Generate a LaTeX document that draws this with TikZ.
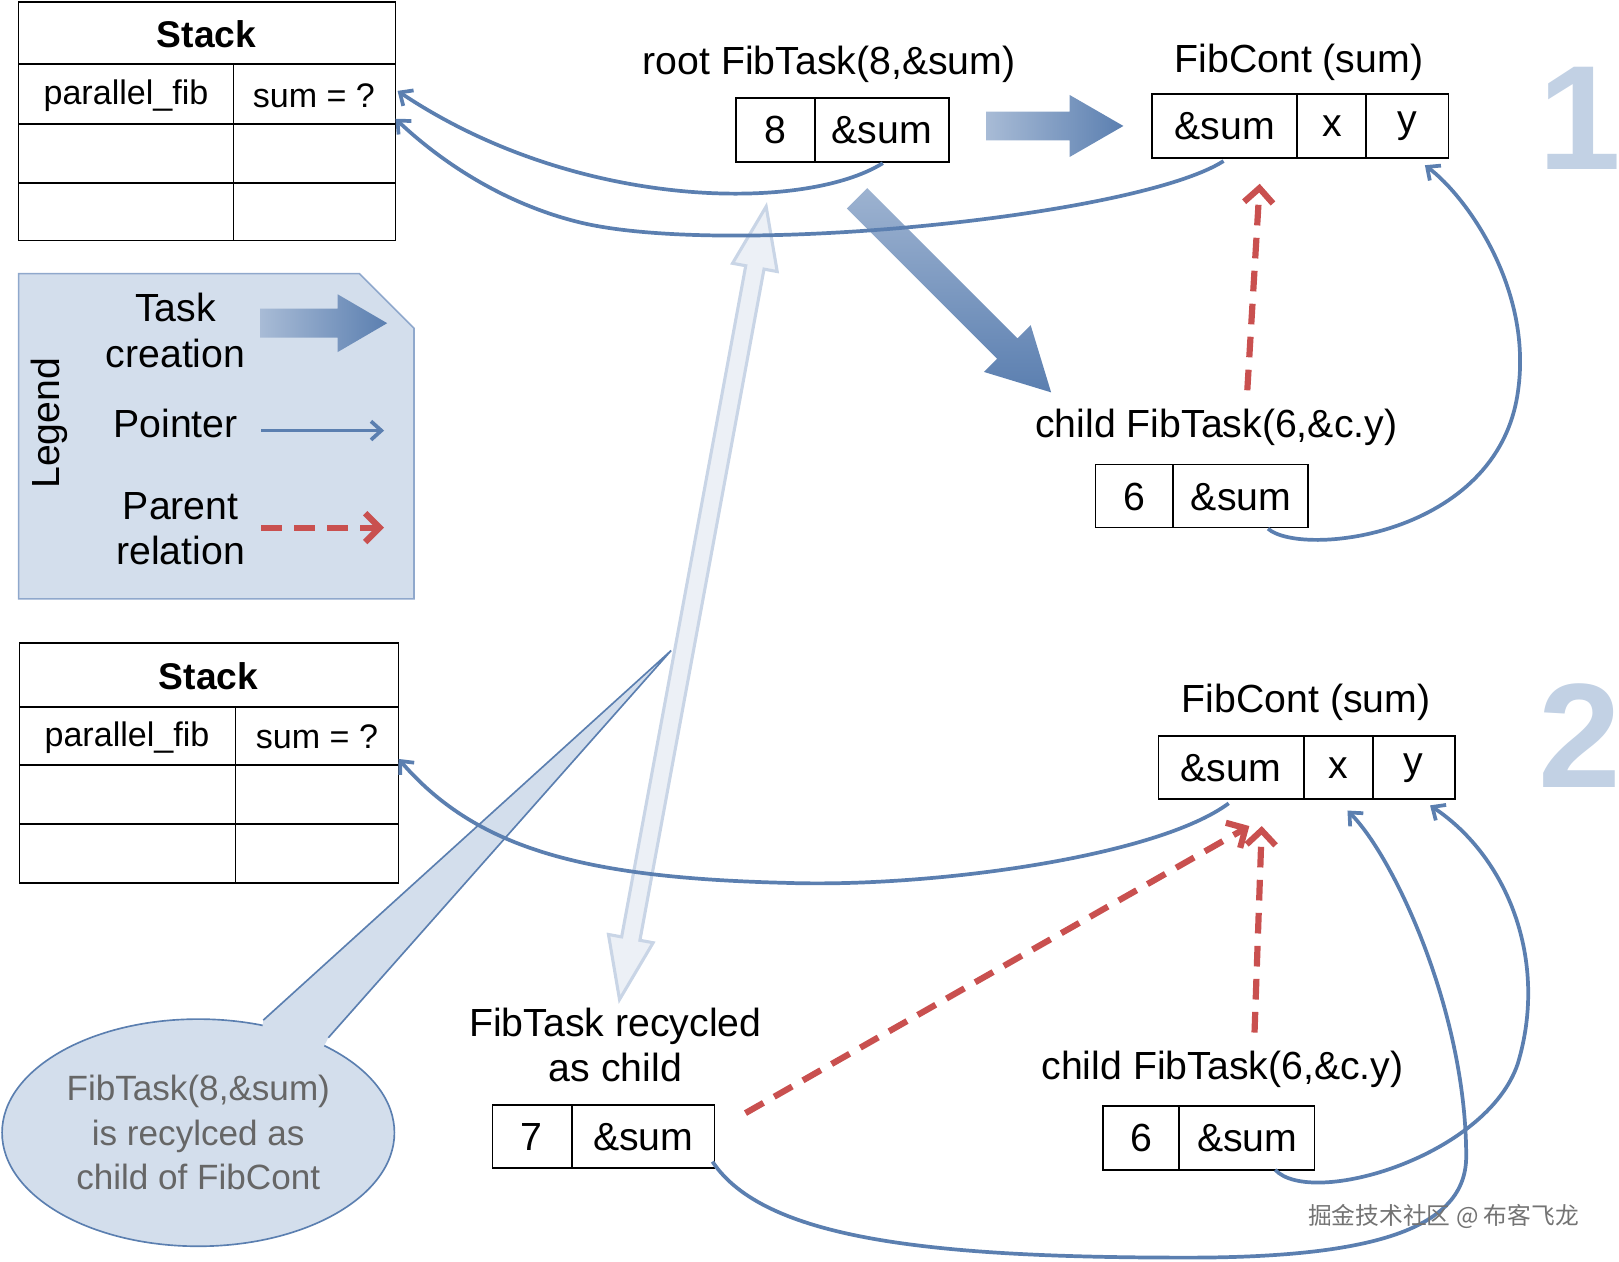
\documentclass[tikz,border=0pt]{standalone}
\usepackage{fontspec}
\setmainfont{Liberation Sans}
\newfontfamily\cjk{Noto Sans CJK SC}
\usetikzlibrary{calc,arrows.meta,shapes.geometric}
\definecolor{lb}{HTML}{D3DEEC}
\definecolor{lbd}{HTML}{8FA8CC}
\definecolor{bl}{HTML}{5B7FB0}
\definecolor{rd}{HTML}{C9504F}
\definecolor{ghost}{HTML}{C9D5E6}
\newcommand\fatarr[7]{% A B halfshaft halfhead headlen fillopts drawopts
 \coordinate (fa-H) at ($(#2)!#5!(#1)$);
 \path[#6,#7] ($(#1)!#3!90:(#2)$) -- ($(fa-H)!#3!90:(#2)$) -- ($(fa-H)!#4!90:(#2)$) -- (#2)
   -- ($(fa-H)!#4!-90:(#2)$) -- ($(fa-H)!#3!-90:(#2)$) -- ($(#1)!#3!-90:(#2)$) -- cycle;}
\begin{document}
\begin{tikzpicture}[x=0.5pt,y=-0.5pt,
  lbl/.style={font=\fontsize{19}{22}\selectfont},
  stk/.style={font=\fontsize{16.5}{19}\selectfont},
  ptr/.style={draw=bl,line width=1.8pt,-{Straight Barb[length=5pt,width=9pt]}},
  par/.style={draw=rd,line width=3pt,dash pattern=on 10pt off 6pt,-{Straight Barb[length=7pt,width=14pt]}},
  num/.style={font=\fontsize{72}{72}\selectfont\bfseries,text=lb!75!lbd}]
\useasboundingbox (0,0) rectangle (1568,1222);
% Stack 1
\draw[thick] (18,2) rectangle (383,233);
\draw[thick] (18,62)--(383,62) (18,120)--(383,120) (18,177)--(383,177) (226,62)--(226,233);
\node[font=\fontsize{18}{20}\selectfont\bfseries] (st1) at (200,33) {Stack};
\node[stk] (pf1) at (122,93) {parallel\_fib};
\node[stk] (sum1) at (304,93) {sum = ?};
\coordinate (s1a) at (385,88); \coordinate (s1b) at (383,115);
% Legend
\draw[fill=lb,draw=lbd,thick] (18,265)--(348,265)--(401,318)--(401,580)--(18,580)--cycle;
\node[lbl,rotate=90] (leg) at (48,410) {Legend};
\node[lbl,align=center] (tc) at (170,320) {Task\\creation};
\node[lbl] (pt) at (170,410) {Pointer};
\node[lbl,align=center] (pr) at (175,512) {Parent\\relation};
\coordinate (la1) at (252,313); \coordinate (la2) at (375,313);
\fatarr{la1}{la2}{7pt}{14pt}{24pt}{left color=ghost!70!bl,right color=bl}{shade}
\coordinate (lp1) at (253,417); \coordinate (lp2) at (372,417);
\draw[ptr] (lp1)--(lp2);
\coordinate (lr1) at (253,511); \coordinate (lr2) at (372,511);
\draw[par] (lr1)--(lr2);
% Stack 2
\draw[thick] (19,623) rectangle (386,855);
\draw[thick] (19,685)--(386,685) (19,741)--(386,741) (19,798)--(386,798) (228,685)--(228,855);
\node[font=\fontsize{18}{20}\selectfont\bfseries] (st2) at (202,655) {Stack};
\node[stk] (pf2) at (123,714) {parallel\_fib};
\node[stk] (sum2) at (307,714) {sum = ?};
\coordinate (s2a) at (386,735);
% ghost double arrow
\coordinate (gA) at (742,200); \coordinate (gB) at (600,968);
\coordinate (gH1) at ($(gA)!30pt!(gB)$); \coordinate (gH2) at ($(gB)!30pt!(gA)$);
\draw[fill=ghost!35,draw=ghost,line width=1.5pt] (gA) -- ($(gH1)!11pt!90:(gB)$) -- ($(gH1)!4.5pt!90:(gB)$) -- ($(gH2)!4.5pt!-90:(gA)$) -- ($(gH2)!11pt!-90:(gA)$) -- (gB) -- ($(gH2)!11pt!90:(gA)$) -- ($(gH2)!4.5pt!90:(gA)$) -- ($(gH1)!4.5pt!-90:(gB)$) -- ($(gH1)!11pt!-90:(gB)$) -- cycle;
% callout
\coordinate (ct) at (650,630);
\draw[fill=lb,draw=bl,thick] (192,1097) ellipse[x radius=190,y radius=110];
\fill[lb] (255,988) -- (ct) -- (318,1005) -- (300,1040) -- (250,1030) -- cycle;
\draw[bl,thick] (255,988) -- (ct) -- (318,1005);
\node[font=\fontsize{17}{21.5}\selectfont,align=center,text=black!60] (co) at (192,1097) {FibTask(8,\&sum)\\is recylced as\\child of FibCont};
% root
\node[lbl] (rootl) at (803,62) {root FibTask(8,\&sum)};
\draw[thick] (713,95) rectangle (919,157) (789,95)--(789,157);
\node[lbl] (r8) at (751,126) {8};
\node[lbl] (rs) at (854,126) {\&sum};
% FibCont1
\node[lbl] (fc1l) at (1258,60) {FibCont (sum)};
\draw[thick] (1116,91) rectangle (1403,153) (1256,91)--(1256,153) (1323,91)--(1323,153);
\node[lbl] (fc1s) at (1186,122) {\&sum};
\node[lbl] (fc1x) at (1290,122) {x};
\node[lbl] (fc1y) at (1363,122) {y};
% big arrows
\coordinate (b1a) at (955,122); \coordinate (b1b) at (1088,122);
\fatarr{b1a}{b1b}{7pt}{15pt}{26pt}{left color=ghost!70!bl,right color=bl}{shade}
\coordinate (b2a) at (830,192); \coordinate (b2b) at (1018,380);
\fatarr{b2a}{b2b}{7pt}{16pt}{30pt}{shading angle=45,top color=ghost!60!bl,bottom color=bl}{shade}
% child1
\node[lbl] (c1l) at (1178,414) {child FibTask(6,\&c.y)};
\draw[thick] (1061,450) rectangle (1267,511) (1136,450)--(1136,511);
\node[lbl] (c16) at (1099,481) {6};
\node[lbl] (c1s) at (1202,481) {\&sum};
\draw[par] (1208,378) -- (1220,178);
% pointers part 1
\draw[ptr] (855,158) .. controls (780,205) and (560,205) .. (s1a);
\draw[ptr] (1185,156) .. controls (1100,210) and (700,250) .. (560,215) .. controls (480,195) and (420,150) .. (s1b);
\draw[ptr] (1228,512) .. controls (1260,540) and (1450,520) .. (1470,380) .. controls (1485,280) and (1420,190) .. (1380,160);
\node[num] (n1) at (1530,115) {1};
% FibCont2
\node[lbl] (fc2l) at (1265,680) {FibCont (sum)};
\draw[thick] (1122,713) rectangle (1409,774) (1263,713)--(1263,774) (1330,713)--(1330,774);
\node[lbl] (fc2s) at (1192,744) {\&sum};
\node[lbl] (fc2x) at (1296,744) {x};
\node[lbl] (fc2y) at (1369,744) {y};
\node[num] (n2) at (1530,712) {2};
% recycled
\node[lbl,align=center] (rcl) at (596,1012) {FibTask recycled\\as child};
\draw[thick] (477,1070) rectangle (692,1131) (554,1070)--(554,1131);
\node[lbl] (r7) at (515,1101) {7};
\node[lbl] (r7s) at (623,1101) {\&sum};
% child2
\node[lbl] (c2l) at (1184,1036) {child FibTask(6,\&c.y)};
\draw[thick] (1068,1071) rectangle (1273,1133) (1142,1071)--(1142,1133);
\node[lbl] (c26) at (1105,1102) {6};
\node[lbl] (c2s) at (1208,1102) {\&sum};
% part 2 connectors
\draw[par] (722,1078) -- (1210,800);
\draw[par] (1215,1000) -- (1222,800);
\draw[ptr] (1190,778) .. controls (1120,830) and (900,860) .. (760,855) .. controls (560,850) and (460,820) .. (s2a);
\draw[ptr] (690,1125) .. controls (740,1200) and (900,1218) .. (1150,1218) .. controls (1330,1218) and (1420,1190) .. (1420,1120) .. controls (1420,980) and (1350,830) .. (1305,785);
\draw[ptr] (1235,1133) .. controls (1270,1170) and (1440,1120) .. (1470,1030) .. controls (1500,930) and (1460,830) .. (1385,780);
% watermark
\node[font=\cjk\fontsize{11.5}{13}\selectfont,text=black!55] (wm) at (1398,1178) {掘金技术社区 @ 布客飞龙};
\end{tikzpicture}
\end{document}
